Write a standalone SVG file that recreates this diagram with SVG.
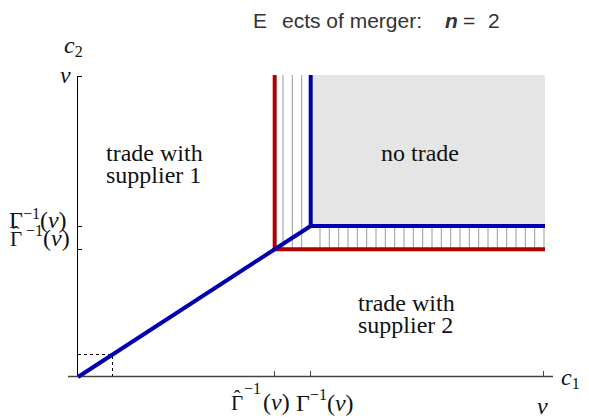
<svg xmlns="http://www.w3.org/2000/svg" width="589" height="420" viewBox="0 0 589 420">
<style>
.lbl{font-family:"Liberation Serif",serif;font-size:24px;fill:#111}
.sup{font-size:16px}
.hat{font-size:20px}
.it{font-style:italic}
.region{font-family:"Liberation Serif",serif;font-size:24px;fill:#111}
.title{font-family:"Liberation Sans",sans-serif;font-size:21px;fill:#333}
.hatch{stroke:#999;stroke-width:1}
.ax{stroke:#000;stroke-width:1;fill:none}
.red{stroke:#b00000;stroke-width:4;fill:none}
.blue{stroke:#0000b0;stroke-width:4;fill:none;stroke-linejoin:miter}
</style>
<rect width="589" height="420" fill="#fff"/>
<g id="title">
<text class="title" y="27.5"><tspan x="253">E</tspan><tspan x="282">ects of merger:</tspan><tspan x="445" font-weight="bold" font-style="italic">n</tspan><tspan x="463">=</tspan><tspan x="488">2</tspan></text>
</g>
<g id="no-trade-region">
<rect x="311" y="75" width="234" height="151" fill="#e5e5e5"/>
<text class="region" x="420" y="161" text-anchor="middle">no trade</text>
</g>
<g id="hatching">
<path class="hatch" d="M283,75V249M292.3,75V249M301.7,75V249M320,226V249M329.3,226V249M338.7,226V249M348,226V249M357.3,226V249M366.7,226V249M376,226V249M385.3,226V249M394.7,226V249M404,226V249M413.3,226V249M422.7,226V249M432,226V249M441.3,226V249M450.7,226V249M460,226V249M469.3,226V249M478.7,226V249M488,226V249M497.3,226V249M506.7,226V249M516,226V249M525.3,226V249M534.7,226V249M544,226V249"/>
</g>
<g id="axes">
<path class="ax" d="M77.5,76V377"/>
<path d="M68,376.5H553" stroke="#444" stroke-width="1.5"/>
<path class="ax" d="M77.5,76.5H82M77.5,226.5H82M77.5,249.5H82"/>
<path d="M274.5,376V371M310.5,376V371M543.5,376V371" stroke="#444" stroke-width="1"/>
<path d="M78,354.5H112.5V376" stroke="#000" stroke-width="1" stroke-dasharray="3,3" fill="none"/>
</g>
<g id="connectors">
<path class="red" d="M274.7,75V249.3H545"/>
<path class="blue" d="M78,377L274.7,249.3L310.7,226"/>
<path class="blue" d="M310.7,75V226H545"/>
</g>
<g id="region-supplier1">
<text class="region" x="106" y="160.7">trade with</text>
<text class="region" x="106" y="183.3">supplier 1</text>
</g>
<g id="region-supplier2">
<text class="region" x="358" y="310.5">trade with</text>
<text class="region" x="358" y="333">supplier 2</text>
</g>
<g id="axis-labels">
<text class="lbl" x="64" y="53"><tspan class="it">c</tspan><tspan class="sup" dy="4">2</tspan></text>
<text class="lbl it" x="60" y="83">v</text>
<text class="lbl" x="9" y="228">Γ<tspan class="sup" dy="-9">−1</tspan><tspan dy="9">(</tspan><tspan class="it">v</tspan>)</text>
<text class="lbl" x="10" y="246"><tspan font-size="21">Γ</tspan><tspan class="hat" dx="-9.4" dy="-5">ˆ</tspan><tspan class="sup" x="26" dy="-5">−1</tspan><tspan x="43" dy="10">(</tspan><tspan class="it">v</tspan>)</text>
<text class="lbl" x="231" y="410"><tspan font-size="21">Γ</tspan><tspan class="hat" dx="-9.4" dy="-5">ˆ</tspan><tspan class="sup" x="244" dy="-11">−1</tspan><tspan x="263" dy="16">(</tspan><tspan class="it">v</tspan>)</text>
<text class="lbl" x="296" y="411">Γ<tspan class="sup" dy="-11">−1</tspan><tspan dy="11">(</tspan><tspan class="it">v</tspan>)</text>
<text class="lbl it" x="537" y="414">v</text>
<text class="lbl" x="561" y="385"><tspan class="it">c</tspan><tspan class="sup" dy="4">1</tspan></text>
</g>
</svg>
